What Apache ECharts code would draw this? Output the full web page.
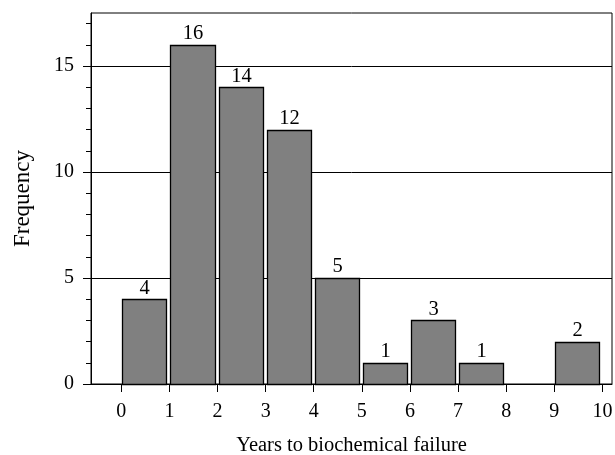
<!DOCTYPE html>
<html><head><meta charset="utf-8">
<script src="https://cdn.jsdelivr.net/npm/echarts@6/dist/echarts.min.js"></script>
<style>html,body{margin:0;padding:0;background:#fff}#c{width:615px;height:455px}</style>
</head><body><div id="c"></div>
<script>
const binStarts = [0, 1, 2, 3, 4, 5, 6, 7, 8, 9];
const binEnds = [1, 2, 3, 4, 5, 6, 7, 8, 9, 10];
const counts = [4, 16, 14, 12, 5, 1, 3, 1, 0, 2];
const xTicks = [0, 1, 2, 3, 4, 5, 6, 7, 8, 9, 10];
const yTicks = [0, 5, 10, 15];
const yMinorTicks = [1, 2, 3, 4, 6, 7, 8, 9, 11, 12, 13, 14, 16, 17];

const FONT = '"Liberation Serif", "DejaVu Serif", serif';
const data = binStarts.map((s, i) => [s, binEnds[i], counts[i]]);

const chart = echarts.init(document.getElementById('c'));
chart.setOption({
  animation: false,
  grid: { left: 91, right: 3, top: 13, bottom: 71, show: true, borderColor: '#000', borderWidth: 1,
          backgroundColor: 'transparent', containLabel: false, outerBoundsMode: 'none' },
  xAxis: {
    type: 'value', min: -0.63, max: 10.2,
    name: 'Years to biochemical failure', nameLocation: 'middle', nameGap: 51,
    nameTextStyle: { fontFamily: FONT, fontSize: 20.5, color: '#000' },
    axisLine: { show: true, onZero: false, lineStyle: { color: '#000', width: 1 } },
    axisTick: { show: true, length: 8, inside: false, customValues: xTicks, lineStyle: { color: '#000' } },
    axisLabel: { customValues: xTicks, fontFamily: FONT, fontSize: 20, color: '#000', margin: 17.5 },
    splitLine: { show: false }
  },
  yAxis: [{
    type: 'value', min: 0, max: 17.5,
    name: 'Frequency', nameLocation: 'middle', nameGap: 57, nameRotate: 90,
    nameTextStyle: { fontFamily: FONT, fontSize: 23, color: '#000' },
    axisLine: { show: true, onZero: false, lineStyle: { color: '#000', width: 1 } },
    axisTick: { show: true, length: 8, inside: false, customValues: yTicks, lineStyle: { color: '#000' } },
    axisLabel: { customValues: yTicks, fontFamily: FONT, fontSize: 20, color: '#000', margin: 17 },
    splitLine: { show: true, lineStyle: { color: '#000', width: 1 } }
  }, {
    type: 'value', min: 0, max: 17.5, position: 'left',
    axisLine: { show: false, onZero: false },
    axisTick: { show: true, length: 5, inside: false, customValues: yMinorTicks, lineStyle: { color: '#000' } },
    axisLabel: { show: false },
    splitLine: { show: false }
  }],
  series: [{
    type: 'custom',
    data: data,
    encode: { x: [0, 1], y: 2 },
    renderItem: function (params, api) {
      const s = api.value(0), e = api.value(1), v = api.value(2);
      if (!v) return { type: 'group', children: [] };
      const p0 = api.coord([s, v]);
      const p1 = api.coord([e, 0]);
      const x0 = Math.round(p0[0]) + 1.5;
      const x1 = Math.round(p1[0]) - 2.5;
      return {
        type: 'group',
        children: [{
          type: 'rect',
          shape: { x: x0, y: Math.round(p0[1]) + 0.5, width: x1 - x0, height: Math.round(p1[1]) - Math.round(p0[1]) },
          style: { fill: '#808080', stroke: '#000', lineWidth: 1.3 }
        }, {
          type: 'text',
          style: { text: String(v), x: (x0 + x1) / 2, y: p0[1] - 0.5, align: 'center', verticalAlign: 'bottom',
                   font: '20.5px ' + FONT, fill: '#000' }
        }]
      };
    }
  }]
});
</script></body></html>
